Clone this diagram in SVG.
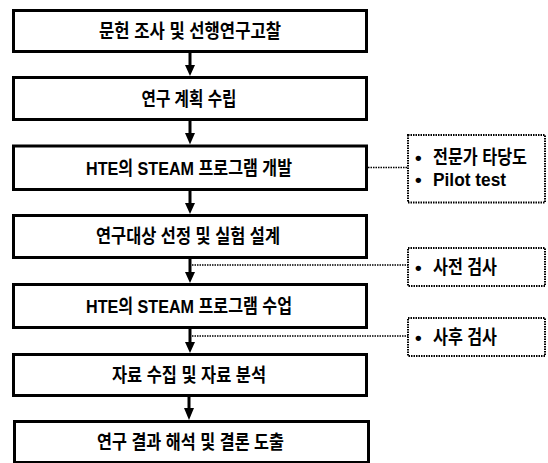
<svg xmlns="http://www.w3.org/2000/svg" width="548" height="463" viewBox="0 0 548 463">
<defs>
<style>
.box{fill:#fff;stroke:#000;stroke-width:3}
.note{fill:#fff;stroke:#000;stroke-width:2;stroke-dasharray:1.5 1}
.dl{stroke:#000;stroke-width:1.6;stroke-dasharray:1.5 1;fill:none}
.ar{stroke:#000;stroke-width:3;fill:none}
.t{font-family:"Liberation Sans Narrow","Liberation Sans","Noto Sans CJK KR",sans-serif;font-weight:bold;font-size:19px;fill:#000;dominant-baseline:central}
.m{text-anchor:middle}
</style>
<marker id="ah" markerWidth="10" markerHeight="11" refX="5" refY="11" orient="auto-start-reverse" markerUnits="userSpaceOnUse" viewBox="0 0 10 11">
<path d="M0,0 L10,0 L5,11 Z" fill="#000"/>
</marker>
</defs>
<g id="connectors">
<line class="ar" x1="190" y1="53" x2="190" y2="65"/><path d="M185,65 L195,65 L190,76 Z"/>
<line class="ar" x1="190" y1="121" x2="190" y2="133"/><path d="M185,133 L195,133 L190,144.5 Z"/>
<line class="ar" x1="190" y1="191" x2="190" y2="203"/><path d="M185,203 L195,203 L190,214 Z"/>
<line class="ar" x1="190" y1="259" x2="190" y2="272"/><path d="M185,272 L195,272 L190,283 Z"/>
<line class="ar" x1="190" y1="329" x2="190" y2="342"/><path d="M185,342 L195,342 L190,353 Z"/>
<line class="ar" x1="189" y1="397" x2="189" y2="408"/><path d="M184,408 L194,408 L189,420 Z"/>
<line class="dl" x1="368" y1="167.5" x2="408" y2="167.5"/>
<line class="dl" x1="192" y1="265" x2="408" y2="265"/>
<line class="dl" x1="192" y1="336" x2="408" y2="336"/>
</g>
<g id="n1"><rect class="box" x="13.5" y="10.5" width="353" height="41"/><text class="t m" x="190" y="31" textLength="182" lengthAdjust="spacingAndGlyphs">문헌 조사 및 선행연구고찰</text></g>
<g id="n2"><rect class="box" x="13.5" y="77.5" width="353" height="42"/><text class="t m" x="189" y="99.5" textLength="95" lengthAdjust="spacingAndGlyphs">연구 계획 수립</text></g>
<g id="n3"><rect class="box" x="13.5" y="146" width="353" height="43.5"/><text class="t m" x="189" y="168.5" textLength="206" lengthAdjust="spacingAndGlyphs">HTE의 STEAM 프로그램 개발</text></g>
<g id="n4"><rect class="box" x="13.5" y="215.5" width="353" height="42"/><text class="t m" x="188" y="236.5" textLength="184" lengthAdjust="spacingAndGlyphs">연구대상 선정 및 실험 설계</text></g>
<g id="n5"><rect class="box" x="13.5" y="284.5" width="353" height="43"/><text class="t m" x="189" y="306.5" textLength="206" lengthAdjust="spacingAndGlyphs">HTE의 STEAM 프로그램 수업</text></g>
<g id="n6"><rect class="box" x="13.5" y="354.5" width="353" height="41"/><text class="t m" x="189" y="375.5" textLength="154" lengthAdjust="spacingAndGlyphs">자료 수집 및 자료 분석</text></g>
<g id="n7"><rect class="box" x="14.5" y="421.5" width="354" height="41"/><text class="t m" x="190.5" y="442" textLength="187" lengthAdjust="spacingAndGlyphs">연구 결과 해석 및 결론 도출</text></g>
<g id="note1"><rect class="note" x="408" y="135" width="137" height="67.5"/>
<text class="t" x="415" y="157">•</text><text class="t" x="433" y="157" textLength="94" lengthAdjust="spacingAndGlyphs">전문가 타당도</text>
<text class="t" x="415" y="179">•</text><text class="t" x="433" y="179" textLength="73" lengthAdjust="spacingAndGlyphs">Pilot test</text></g>
<g id="note2"><rect class="note" x="408" y="248" width="137" height="38"/>
<text class="t" x="415" y="267">•</text><text class="t" x="433" y="267" textLength="64" lengthAdjust="spacingAndGlyphs">사전 검사</text></g>
<g id="note3"><rect class="note" x="408" y="318" width="137" height="38"/>
<text class="t" x="415" y="337">•</text><text class="t" x="433" y="337" textLength="64" lengthAdjust="spacingAndGlyphs">사후 검사</text></g>
</svg>
